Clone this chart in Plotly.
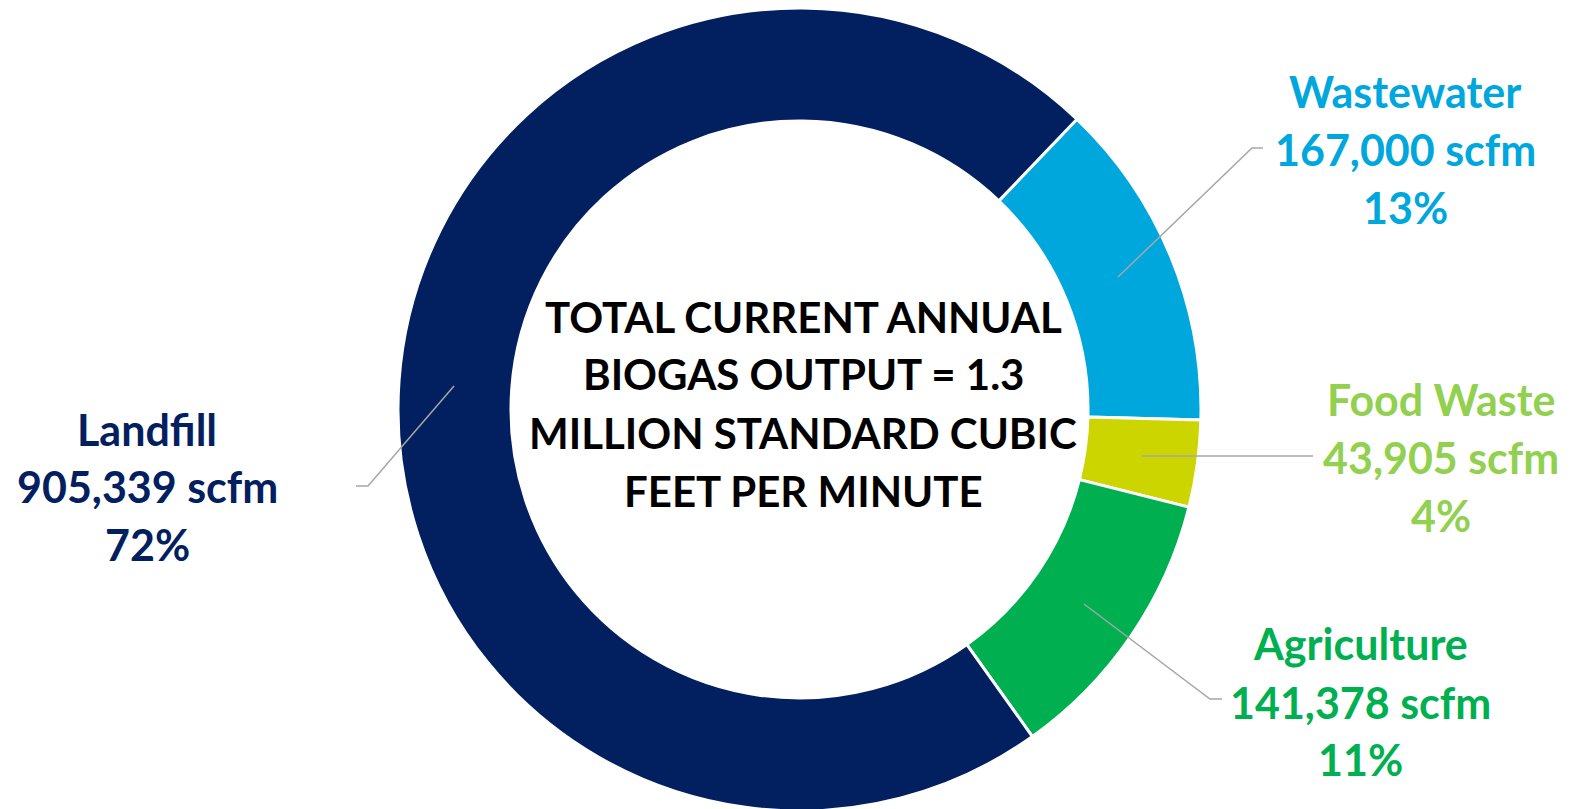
import plotly.graph_objects as go

categories = ["Wastewater", "Food Waste", "Agriculture", "Landfill"]
values = [167000, 43905, 141378, 905339]
pct_labels = ["13%", "4%", "11%", "72%"]
slice_colors = ["#00A7DD", "#CCD500", "#00B050", "#022060"]
text_colors = ["#00A7DD", "#92D050", "#00B050", "#022060"]
center_lines = ["TOTAL CURRENT ANNUAL", "BIOGAS OUTPUT = 1.3",
                "MILLION STANDARD CUBIC", "FEET PER MINUTE"]

W, H = 1570, 809
OFF = 8  # default page body margin
FONT = "Lato"


def px(x):
    return (x - OFF) / W


def py(y):
    return 1 - (y - OFF) / H


cx, cy, r = 799.5, 409.5, 401.5

fig = go.Figure(go.Pie(
    labels=categories, values=values, sort=False, direction="clockwise",
    rotation=43.7, hole=0.7186, textinfo="none",
    marker=dict(colors=slice_colors, line=dict(color="white", width=3)),
    domain=dict(x=[px(cx - r), px(cx + r)],
                y=[max(0.0, py(cy + r)), min(1.0, py(cy - r))]),
    showlegend=False,
))

# label block: centre x and cap-midline y of each line
label_pos = {
    "Wastewater": (1405, [91.5, 149, 207]),
    "Food Waste": (1441, [400, 457, 515]),
    "Agriculture": (1360, [643.5, 702, 759.5]),
    "Landfill": (147, [429, 486, 544]),
}
leaders = {
    "Wastewater": [(1118, 277), (1252, 148), (1263, 148)],
    "Food Waste": [(1142, 456), (1313, 456)],
    "Agriculture": [(1084, 604), (1210, 699), (1222, 699)],
    "Landfill": [(454, 386), (368, 486), (356, 486)],
}

annotations = []
shapes = []


def add_line(text, x, y, color, size):
    annotations.append(dict(
        x=px(x), y=py(y), xref="paper", yref="paper",
        xanchor="center", yanchor="middle", showarrow=False, align="center",
        text=f"<b>{text}</b>",
        font=dict(family=FONT, size=size, color=color),
    ))


for cat, v, p, col in zip(categories, values, pct_labels, text_colors):
    x, ys = label_pos[cat]
    for t, y in zip([cat, f"{v:,} scfm", p], ys):
        add_line(t, x, y, col, 43)
    pts = leaders[cat]
    path = "M " + " L ".join(f"{px(a)},{py(b)}" for a, b in pts)
    shapes.append(dict(type="path", xref="paper", yref="paper", path=path,
                       line=dict(color="#A6A6A6", width=1.5)))

for t, y in zip(center_lines, [317, 374, 433, 491]):
    add_line(t, 803, y, "#000000", 42)

fig.update_layout(
    width=W, height=H, margin=dict(l=0, r=0, t=0, b=0),
    paper_bgcolor="white", plot_bgcolor="white",
    annotations=annotations, shapes=shapes,
)

fig.write_html("out.html")
